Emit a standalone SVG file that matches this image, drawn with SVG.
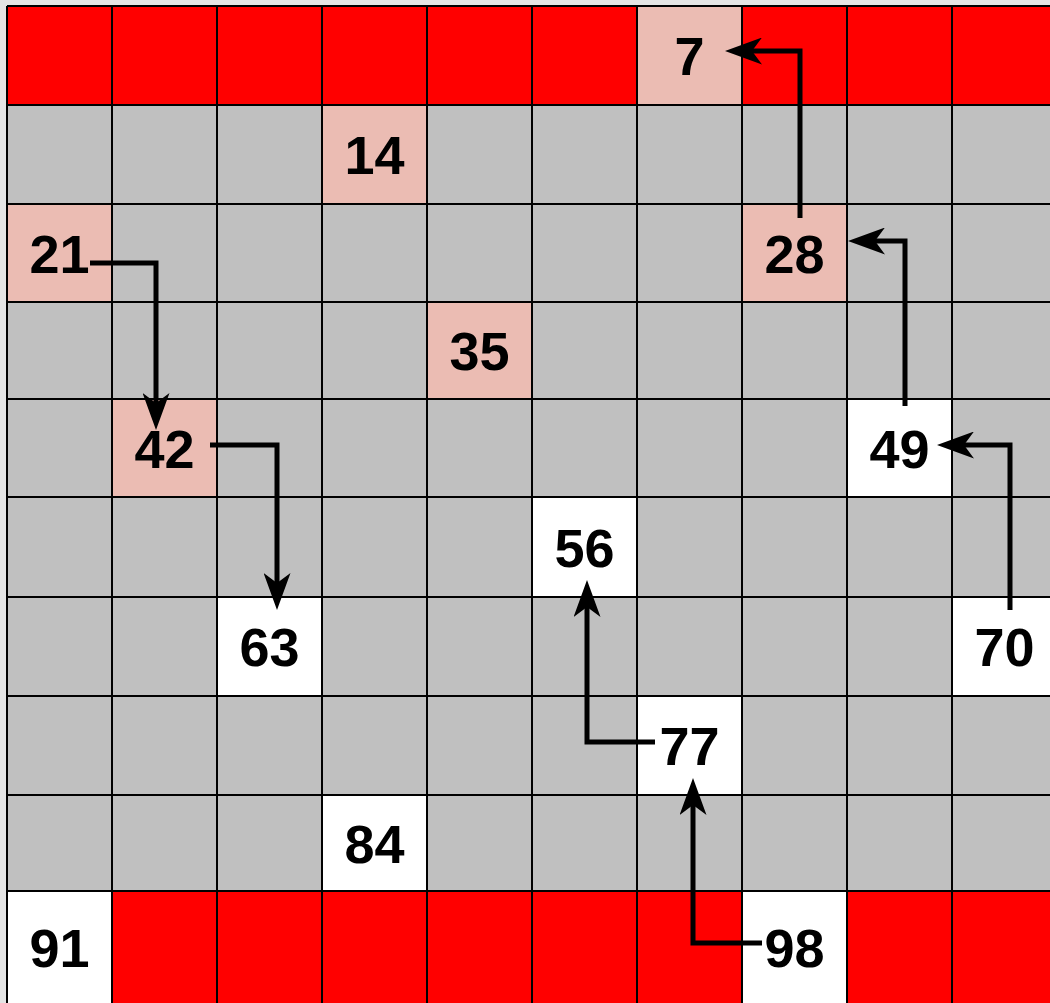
<svg xmlns="http://www.w3.org/2000/svg" width="1050" height="1003" viewBox="0 0 1050 1003">
<style>
.bg{fill:#e4e4e4}
.gray{fill:#c0c0c0}
.red{fill:#ff0000}
.pink{fill:#ebbcb3}
.white{fill:#ffffff}
.grid{stroke:#000;stroke-width:2;fill:none}
.num{font-family:"Liberation Sans",Arial,sans-serif;font-weight:bold;font-size:54px;text-anchor:middle;fill:#000}
.conn{fill:none;stroke:#000;stroke-width:5;stroke-linejoin:miter;marker-end:url(#ah)}
</style>
<defs>
<marker id="ah" markerUnits="userSpaceOnUse" viewBox="0 0 37 27" markerWidth="37" markerHeight="27" refX="17" refY="13.5" orient="auto">
<path d="M37,13.5 L0,0 L10,13.5 L0,27 Z" fill="#000"/>
</marker>
</defs>
<rect class="bg" x="0" y="0" width="1050" height="1003"/>
<g id="background">
<rect class="gray" x="7" y="6" width="1050" height="1000"/>
<rect class="red" x="7" y="6" width="1050" height="99"/>
<rect class="red" x="7" y="891" width="1050" height="115"/>
</g>
<g id="n7"><rect class="pink" x="637" y="6" width="105" height="99"/><text class="num" x="689.5" y="75">7</text></g>
<g id="n14"><rect class="pink" x="322" y="105" width="105" height="99"/><text class="num" x="374.5" y="174">14</text></g>
<g id="n21"><rect class="pink" x="7" y="204" width="105" height="98"/><text class="num" x="59.5" y="272.5">21</text></g>
<g id="n28"><rect class="pink" x="742" y="204" width="105" height="98"/><text class="num" x="794.5" y="272.5">28</text></g>
<g id="n35"><rect class="pink" x="427" y="302" width="105" height="97"/><text class="num" x="479.5" y="370">35</text></g>
<g id="n42"><rect class="pink" x="112" y="399" width="105" height="98"/><text class="num" x="164.5" y="467.5">42</text></g>
<g id="n49"><rect class="white" x="847" y="399" width="105" height="98"/><text class="num" x="899.5" y="467.5">49</text></g>
<g id="n56"><rect class="white" x="532" y="497" width="105" height="100"/><text class="num" x="584.5" y="566.5">56</text></g>
<g id="n63"><rect class="white" x="217" y="597" width="105" height="99"/><text class="num" x="269.5" y="666">63</text></g>
<g id="n70"><rect class="white" x="952" y="597" width="105" height="99"/><text class="num" x="1004.5" y="666">70</text></g>
<g id="n77"><rect class="white" x="637" y="696" width="105" height="99"/><text class="num" x="689.5" y="765">77</text></g>
<g id="n84"><rect class="white" x="322" y="795" width="105" height="96"/><text class="num" x="374.5" y="862.5">84</text></g>
<g id="n91"><rect class="white" x="7" y="891" width="105" height="115"/><text class="num" x="59.5" y="966.5">91</text></g>
<g id="n98"><rect class="white" x="742" y="891" width="105" height="115"/><text class="num" x="794.5" y="966.5">98</text></g>
<g id="gridlines" class="grid">
<path d="M7,6 V1003 M112,6 V1003 M217,6 V1003 M322,6 V1003 M427,6 V1003 M532,6 V1003 M637,6 V1003 M742,6 V1003 M847,6 V1003 M952,6 V1003"/>
<path d="M7,6 H1050 M7,105 H1050 M7,204 H1050 M7,302 H1050 M7,399 H1050 M7,497 H1050 M7,597 H1050 M7,696 H1050 M7,795 H1050 M7,891 H1050"/>
</g>
<g id="connectors">
<path class="conn" d="M800,218 V51 H745"/>
<path class="conn" d="M905,406 V241 H868"/>
<path class="conn" d="M1010,610 V445 H957"/>
<path class="conn" d="M90,263 H156 V410"/>
<path class="conn" d="M210,445 H277 V590"/>
<path class="conn" d="M655,742 H587 V600"/>
<path class="conn" d="M762,943 H693 V798"/>
</g>
</svg>
